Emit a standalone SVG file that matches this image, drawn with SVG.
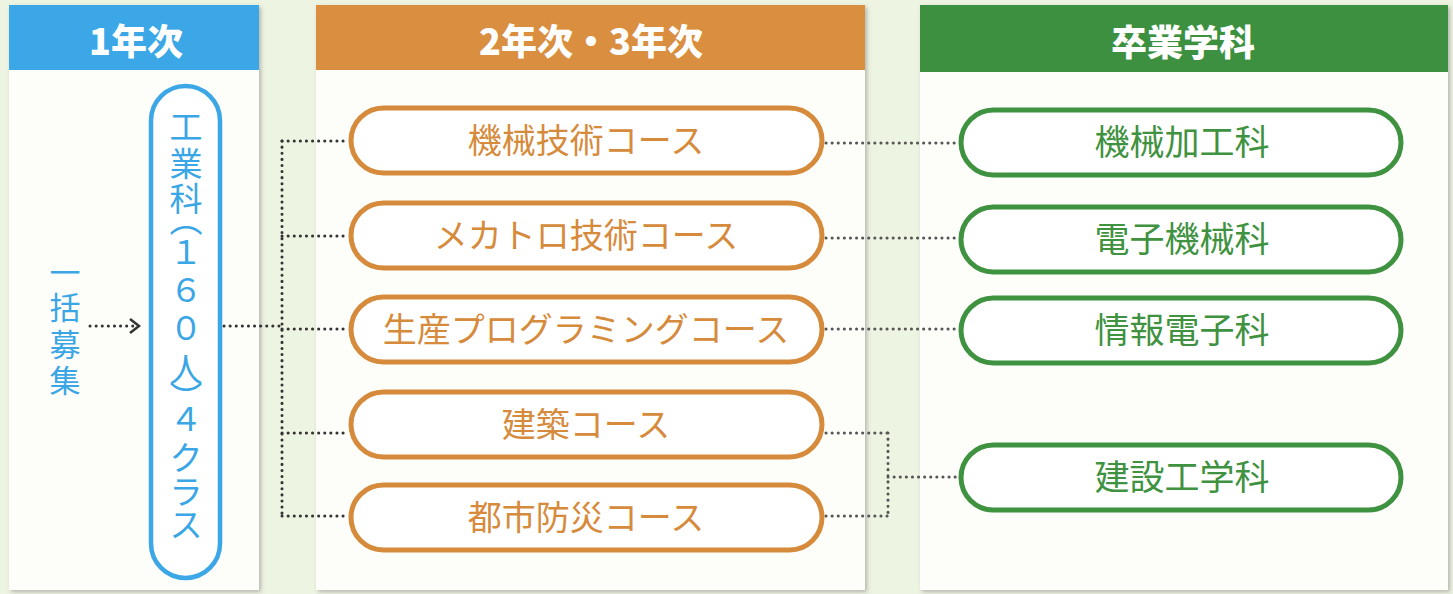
<svg xmlns="http://www.w3.org/2000/svg" width="1453" height="594" viewBox="0 0 1453 594">
<defs>
<style>
text{font-family:"Noto Sans CJK JP","Noto Sans CJK SC",sans-serif;}
.hd{font-size:36px;font-weight:900;fill:#fff;text-anchor:middle;}
.panel{fill:#fdfdf9;}
.op{fill:#fff;stroke:#d68b3c;stroke-width:5;}
.gp{fill:#fff;stroke:#3f9240;stroke-width:5;}
.ot{font-size:34px;fill:#d68b3c;text-anchor:middle;}
.gt{font-size:35px;fill:#3f9240;text-anchor:middle;}
.bt{font-size:31px;fill:#3aa6e6;text-anchor:middle;}
.kt{font-size:33px;fill:#3aa6e6;text-anchor:middle;}
.vt{writing-mode:vertical-rl;}
.dot{fill:none;stroke:#333;stroke-width:3;stroke-dasharray:0.1 6;stroke-linecap:round;}
.dotg{fill:none;stroke:#555;stroke-width:3;stroke-dasharray:0.1 6;stroke-linecap:round;}
</style>
<filter id="sh" x="-5%" y="-5%" width="110%" height="110%"><feDropShadow dx="2" dy="2" stdDeviation="2" flood-color="#777" flood-opacity="0.5"/></filter>
</defs>
<rect width="1453" height="594" fill="#eef4e2"/>
<g id="panel1">
<rect x="9" y="5" width="250" height="585" class="panel" filter="url(#sh)"/>
<rect x="9" y="5" width="250" height="65" fill="#3ba7e7"/>
<text x="136" y="55" class="hd">1年次</text>
</g>
<g id="panel2">
<rect x="316" y="5" width="549" height="585" class="panel" filter="url(#sh)"/>
<rect x="316" y="5" width="549" height="65" fill="#d98f3f"/>
<text x="591" y="55" class="hd">2年次・3年次</text>
</g>
<g id="panel3">
<rect x="920" y="5" width="528" height="585" class="panel" filter="url(#sh)"/>
<rect x="920" y="5" width="528" height="67" fill="#3c9040"/>
<text x="1183" y="56" class="hd">卒業学科</text>
</g>
<g id="connectors">
<path class="dot" d="M90 326 H136"/>
<path d="M130 319 L139 326 L130 333" fill="none" stroke="#333" stroke-width="2.5"/>
<path class="dot" d="M224 326 H282"/>
<path class="dot" d="M282 141 V516"/>
<path class="dot" d="M282 141 H348 M282 236 H348 M282 329 H348 M282 433 H348 M282 516 H348"/>
<path class="dotg" d="M826 143 H958 M826 238 H958 M826 329 H958"/>
<path class="dotg" d="M826 433 H888 M826 516 H888 M888 433 V516 M888 477 H958"/>
</g>
<g id="boshu">
<text class="bt" x="65" y="284">一</text>
<text class="bt" x="65" y="319">括</text>
<text class="bt" x="65" y="356">募</text>
<text class="bt" x="65" y="392">集</text>
</g>
<g id="kogyo">
<rect x="151" y="86" width="69" height="492" rx="34.5" fill="#fff" stroke="#3ba7e7" stroke-width="4.5"/>
<text class="kt" x="186" y="139">工</text>
<text class="kt" x="186" y="176">業</text>
<text class="kt" x="186" y="211">科</text>
<text class="kt vt" x="186" y="219">（</text>
<text class="kt" x="186" y="264">１</text>
<text class="kt" x="186" y="302">６</text>
<text class="kt" x="186" y="340">０</text>
<text class="kt" x="186" y="382">人</text>
<text class="kt vt" x="186" y="397">）</text>
<text class="kt" x="186" y="431">４</text>
<text class="kt" x="186" y="470">ク</text>
<text class="kt" x="186" y="504">ラ</text>
<text class="kt" x="186" y="537">ス</text>
</g>
<g id="c1"><rect class="op" x="351" y="108" width="471" height="65" rx="32.5"/><text class="ot" x="586" y="153">機械技術コース</text></g>
<g id="c2"><rect class="op" x="351" y="203" width="471" height="65" rx="32.5"/><text class="ot" x="586" y="248">メカトロ技術コース</text></g>
<g id="c3"><rect class="op" x="351" y="297" width="471" height="65" rx="32.5"/><text class="ot" x="586" y="342">生産プログラミングコース</text></g>
<g id="c4"><rect class="op" x="351" y="392" width="471" height="65" rx="32.5"/><text class="ot" x="586" y="437">建築コース</text></g>
<g id="c5"><rect class="op" x="351" y="485" width="471" height="65" rx="32.5"/><text class="ot" x="586" y="530">都市防災コース</text></g>
<g id="d1"><rect class="gp" x="961" y="110" width="440" height="65" rx="32.5"/><text class="gt" x="1182" y="155">機械加工科</text></g>
<g id="d2"><rect class="gp" x="961" y="207" width="440" height="65" rx="32.5"/><text class="gt" x="1182" y="252">電子機械科</text></g>
<g id="d3"><rect class="gp" x="961" y="298" width="440" height="65" rx="32.5"/><text class="gt" x="1182" y="343">情報電子科</text></g>
<g id="d4"><rect class="gp" x="961" y="445" width="440" height="65" rx="32.5"/><text class="gt" x="1182" y="490">建設工学科</text></g>
</svg>
